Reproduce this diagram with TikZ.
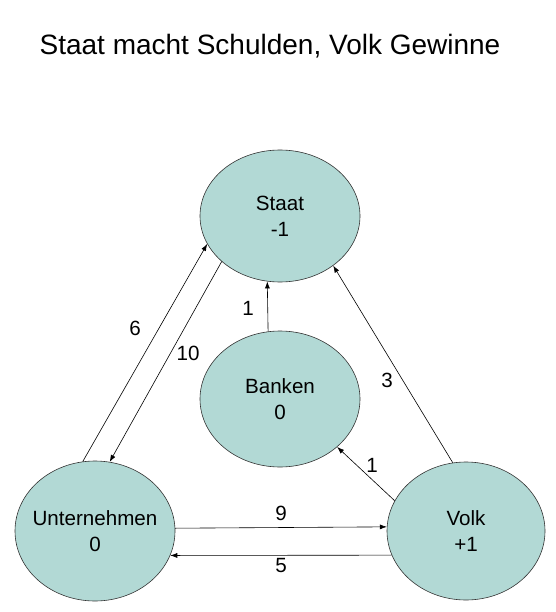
\documentclass[tikz,border=0pt]{standalone}
\usepackage{fontspec}
\setmainfont{Liberation Sans}
\usepackage{tikz}
\usetikzlibrary{shapes.geometric}
\usetikzlibrary{arrows.meta}
\pgfdeclarelayer{nodelayer}
\pgfdeclarelayer{edgelayer}
\pgfsetlayers{nodelayer,edgelayer,main}
\definecolor{sektorfarbe}{RGB}{178,217,213}
\tikzset{
  sektor/.style={ellipse, draw=black!80, fill=sektorfarbe, line width=0.6pt,
    inner sep=0pt, minimum width=160pt, minimum height=136pt, align=center,
    font=\fontsize{20.6}{26}\selectfont},
  fluss/.style={-{Latex[length=7pt,width=5pt]}, line width=0.6pt},
  betrag/.style={font=\fontsize{20.6}{24}\selectfont, inner sep=0pt}
}

\begin{document}
\begin{tikzpicture}[x=1pt, y=-1pt]
  \useasboundingbox (0, 0) rectangle (555, 612);
  \begin{pgfonlayer}{nodelayer}
    \node [font=\fontsize{28}{32}\selectfont] (titel) at (270, 46) {Staat macht Schulden, Volk Gewinne};
    \node [sektor, minimum height=132pt] (staat) at (280, 216) {Staat\\-1};
    \node [sektor] (banken) at (280, 399) {Banken\\0};
    \node [sektor, minimum height=140pt] (unt) at (95, 531) {\makebox[80pt]{Unternehmen}\\0};
    \node [sektor, minimum width=158pt, minimum height=138pt] (volk) at (466, 531) {Volk\\+1};
    \node [betrag] (b6) at (135, 328) {6};
    \node [betrag] (b10) at (188, 353) {10};
    \node [betrag] (b1oben) at (248, 308) {1};
    \node [betrag] (b3) at (387, 380) {3};
    \node [betrag] (b1unten) at (372, 465) {1};
    \node [betrag] (b9) at (281, 513) {9};
    \node [betrag] (b5) at (281, 566) {5};
  \end{pgfonlayer}
  \begin{pgfonlayer}{edgelayer}
    \draw [fluss] (unt.100.7) to (staat.201.7);
    \draw [fluss] (staat.218.5) to (unt.78.8);
    \draw [fluss] (banken.100.2) to (staat.259.5);
    \draw [fluss] (volk.101.5) to (staat.317.2);
    \draw [fluss] (volk.157.3) to (banken.320);
    \draw [fluss] (unt.2.2) to (volk.177.8);
    \draw [fluss] (volk.198) to (unt.342.3);
  \end{pgfonlayer}
\end{tikzpicture}
\end{document}
